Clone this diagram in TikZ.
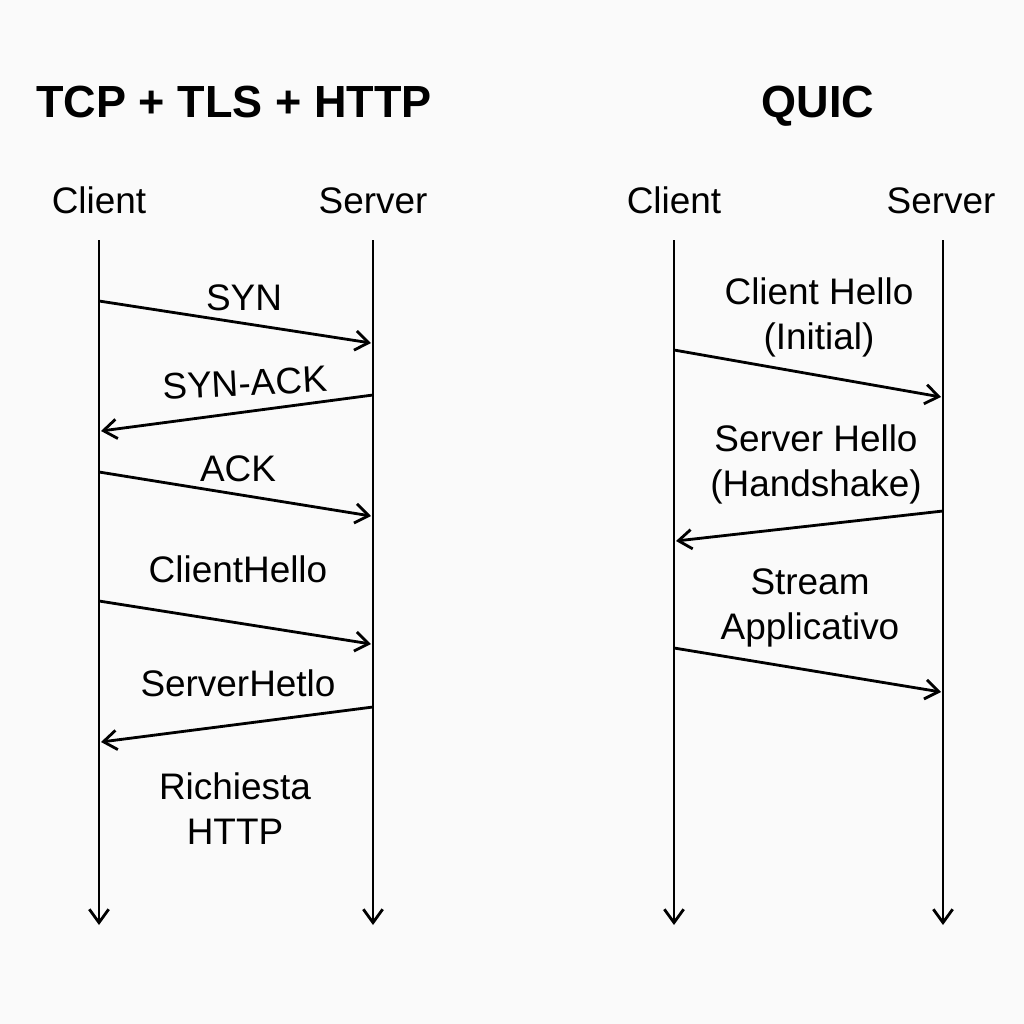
\documentclass[tikz,border=0pt]{standalone}
\usepackage{fontspec}
\setmainfont{Liberation Sans}
\usetikzlibrary{arrows.meta}
\begin{document}
\begin{tikzpicture}[x=0.01cm,y=-0.01cm,
                    arrow/.style = {line width=0.8pt,-{Straight Barb[length=3.8pt,width=5.5pt,line width=0.8pt]}},
                    title/.style = {font=\fontsize{12.8}{15}\selectfont\bfseries,anchor=base},
                    label/.style = {font=\fontsize{10.5}{12.8}\selectfont,align=center}]
                    \fill[white!98!black] (0,0) rectangle (1024,1024);
                    \useasboundingbox (0,0) rectangle (1024,1024);

                    \node[title] (tcp)  at (234,117) {TCP + TLS + HTTP};
                    \node[title] (quic) at (818,117) {QUIC};

                    \node[label,anchor=base] (client1) at (99,213)  {Client};
                    \node[label,anchor=base] (server1) at (373,213) {Server};
                    \node[label,anchor=base] (client2) at (674,213) {Client};
                    \node[label,anchor=base] (server2) at (941,213) {Server};

                    \coordinate (c1top) at (99,240);   \coordinate (c1bot) at (99,925);
                    \coordinate (s1top) at (373,240);  \coordinate (s1bot) at (373,925);
                    \coordinate (c2top) at (674,240);  \coordinate (c2bot) at (674,925);
                    \coordinate (s2top) at (943,240);  \coordinate (s2bot) at (943,925);

                    \draw[arrow] (c1top) -- (c1bot);
                    \draw[arrow] (s1top) -- (s1bot);
                    \draw[arrow] (c2top) -- (c2bot);
                    \draw[arrow] (s2top) -- (s2bot);

                    \node[label]          (syn)     at (244,298) {SYN};
                    \node[label,rotate=3] (synack)  at (245,383) {SYN-ACK};
                    \node[label]          (ack)     at (238,469) {ACK};
                    \node[label]          (chello)  at (238,569) {ClientHello};
                    \node[label]          (shello)  at (238,683) {ServerHetlo};
                    \node[label]          (request) at (235,809) {Richiesta\\HTTP};

                    \node[label] (initial)   at (819,317) {Client Hello\\(Initial)};
                    \node[label] (handshake) at (816,464) {Server Hello\\(Handshake)};
                    \node[label] (stream)    at (810,608) {Stream\\Applicativo};

                    \coordinate (syn-a)    at (99,301);  \coordinate (syn-b)    at (371,343);
                    \coordinate (synack-a) at (373,395); \coordinate (synack-b) at (101,431);
                    \coordinate (ack-a)    at (99,472);  \coordinate (ack-b)    at (371,516);
                    \coordinate (chello-a) at (99,601);  \coordinate (chello-b) at (371,644);
                    \coordinate (shello-a) at (373,707); \coordinate (shello-b) at (101,742);

                    \coordinate (initial-a)   at (674,350); \coordinate (initial-b)   at (941,397);
                    \coordinate (handshake-a) at (943,511); \coordinate (handshake-b) at (676,541);
                    \coordinate (stream-a)    at (674,648); \coordinate (stream-b)    at (941,692);

                    \draw[arrow] (syn-a) -- (syn-b);
                    \draw[arrow] (synack-a) -- (synack-b);
                    \draw[arrow] (ack-a) -- (ack-b);
                    \draw[arrow] (chello-a) -- (chello-b);
                    \draw[arrow] (shello-a) -- (shello-b);

                    \draw[arrow] (initial-a) -- (initial-b);
                    \draw[arrow] (handshake-a) -- (handshake-b);
                    \draw[arrow] (stream-a) -- (stream-b);

                \end{tikzpicture}
\end{document}
